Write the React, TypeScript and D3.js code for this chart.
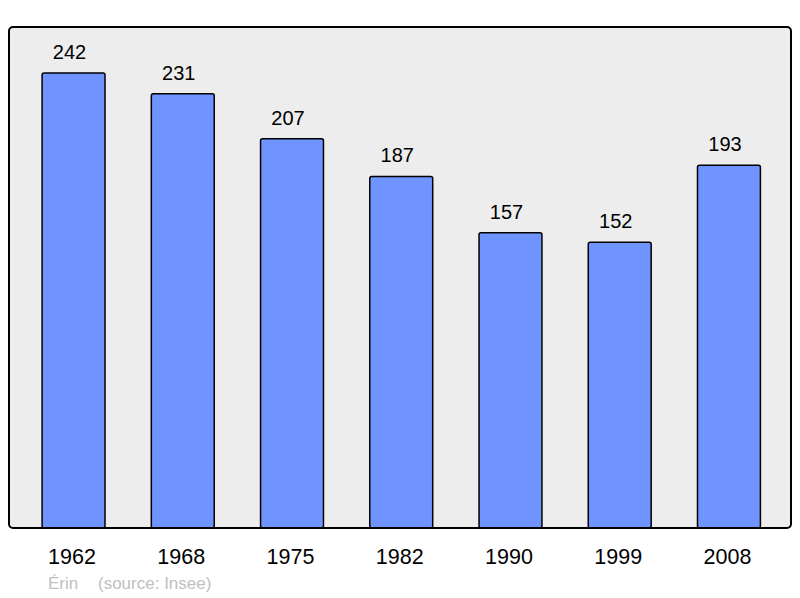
import React from 'react';
import { scaleBand, scaleLinear } from 'd3';

const width = 800;
const height = 598;
const panel = { left: 9, top: 27, right: 791, bottom: 528 };

const years = ['1962', '1968', '1975', '1982', '1990', '1999', '2008'];
const population = [242, 231, 207, 187, 157, 152, 193];
const townName = 'Érin';
const sourceLabel = '(source: Insee)';

const font = '"Liberation Sans", Arial, sans-serif';

const App = () => {
  const xScale = scaleBand<string>()
    .domain(years)
    .range([11.5, panel.right])
    .paddingInner(0.424)
    .paddingOuter(0.28);

  // 242 sits at y=73 in the reference
  const yScale = scaleLinear().domain([0, 242]).range([panel.bottom, 73]);

  return (
    <svg width={width} height={height} style={{ position: 'absolute', left: 0, top: 0 }}>
      <rect
        x={panel.left}
        y={panel.top}
        width={panel.right - panel.left}
        height={panel.bottom - panel.top}
        rx={4}
        fill="#ededed"
      />
      {years.map((year, i) => {
        const x = xScale(year)!;
        const y = yScale(population[i]);
        const cx = x + xScale.bandwidth() / 2;
        return (
          <g key={year}>
            <rect
              x={x}
              y={y}
              width={xScale.bandwidth()}
              height={panel.bottom - y}
              rx={2}
              fill="#7094ff"
              stroke="#000"
              strokeWidth={1.5}
            />
            <text x={cx - 4} y={y - 14} textAnchor="middle" fontFamily={font} fontSize={20} fill="#000">
              {population[i]}
            </text>
            <text x={cx - 1.5} y={564} textAnchor="middle" fontFamily={font} fontSize={21.5} fill="#000">
              {year}
            </text>
          </g>
        );
      })}
      <rect x={panel.left} y={panel.top} width={panel.right - panel.left} height={panel.bottom - panel.top} rx={4} fill="none" stroke="#000" strokeWidth={2} />
      <text x={48} y={589} fontFamily={font} fontSize={17} fill="#c0c0c0">
        {townName}
      </text>
      <text x={98} y={589} fontFamily={font} fontSize={17} fill="#c0c0c0">
        {sourceLabel}
      </text>
    </svg>
  );
};

export default App;
